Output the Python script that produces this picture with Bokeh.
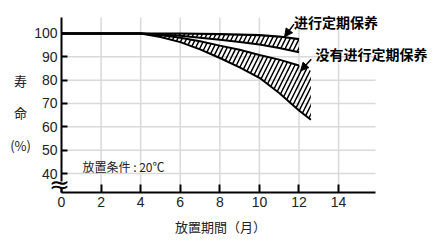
from bokeh.plotting import figure
from bokeh.models import Label, Arrow, NormalHead, FixedTicker, BoxAnnotation
from bokeh.embed import file_html
from bokeh.resources import INLINE

# ---- data ----
x_ticks = [0, 2, 4, 6, 8, 10, 12, 14]
y_ticks = [40, 50, 60, 70, 80, 90, 100]
grid_x = [2, 4, 6, 8, 10, 12, 14]
grid_y = [40, 50, 60, 70, 80, 90]

# with regular maintenance (upper band)
keep_top_m = [0, 4, 6, 8, 10, 11, 12]
keep_top_v = [100, 100, 100, 99.7, 99.3, 98.7, 97.6]
keep_bot_m = [0, 4, 5, 6, 7, 8, 9, 10, 11, 12]
keep_bot_v = [100, 100, 99.6, 99.0, 98.2, 97.3, 96.4, 95.3, 93.8, 92.0]

# without regular maintenance (lower band)
nokeep_top_m = [0, 4, 5, 6, 7, 8, 9, 10, 11, 12]
nokeep_top_v = [100, 100, 99.3, 98.2, 96.7, 94.8, 93.0, 90.8, 88.8, 86.3]
nokeep_top_end_m = [12, 12.6]
nokeep_top_end_v = [86.3, 84.0]
nokeep_bot_m = [0, 4, 5, 6, 7, 8, 9, 10, 11, 12, 12.6]
nokeep_bot_v = [100, 100, 98.5, 96.3, 93.2, 89.5, 85.5, 81.0, 74.5, 67.0, 63.0]

label_keep = "进行定期保养"
label_nokeep = "没有进行定期保养"
cond_text = "放置条件 : 20℃"
x_title = "放置期間（月）"
y_title_parts = ["寿", "命", "(%)"]

# ---- layout constants ----
AX_X_MIN, AX_X_MAX = 0, 15.87          # extent of drawn axes
AX_Y_MIN, AX_Y_MAX = 31.86, 106.9
X_LO, X_HI = -3.082, 19.20             # whole canvas
Y_LO, Y_HI = 7.86, 114.14

NUM_FONT = "'Liberation Sans Narrow', 'Liberation Sans', sans-serif"
JP_FONT = "'Noto Sans CJK JP', sans-serif"
SC_FONT = "'Noto Sans CJK SC', sans-serif"
GRID_COLOR = "#d9d9d9"

p = figure(width=441, height=248, x_range=(X_LO, X_HI), y_range=(Y_LO, Y_HI),
           output_backend="svg", toolbar_location=None,
           min_border=0, min_border_left=0, min_border_right=0,
           min_border_top=0, min_border_bottom=0)
p.outline_line_color = None
p.background_fill_color = "white"
p.border_fill_color = "white"
p.xgrid.visible = False
p.ygrid.visible = False

# grid lines limited to the axes' extent
p.segment(x0=[AX_X_MIN] * len(grid_y), x1=[AX_X_MAX] * len(grid_y), y0=grid_y, y1=grid_y,
          line_color=GRID_COLOR, line_width=1.5)
p.segment(x0=grid_x, x1=grid_x, y0=[AX_Y_MIN] * len(grid_x), y1=[AX_Y_MAX] * len(grid_x),
          line_color=GRID_COLOR, line_width=1.5)

# axes
for ax in (p.xaxis[0], p.yaxis[0]):
    ax.axis_line_color = "black"
    ax.axis_line_width = 2
    ax.major_tick_line_color = "black"
    ax.major_tick_line_width = 2
    ax.major_tick_out = 0
    ax.minor_tick_line_color = None
    ax.major_label_text_font = NUM_FONT
    ax.major_label_text_font_size = "14px"
    ax.major_label_text_color = "#222222"
p.xaxis.ticker = FixedTicker(ticks=x_ticks)
p.yaxis.ticker = FixedTicker(ticks=y_ticks)
p.xaxis.fixed_location = AX_Y_MIN
p.yaxis.fixed_location = AX_X_MIN
p.xaxis.bounds = (AX_X_MIN, AX_X_MAX)
p.yaxis.bounds = (AX_Y_MIN, AX_Y_MAX)
p.xaxis.major_tick_in = 8
p.yaxis.major_tick_in = 6
p.xaxis.major_label_standoff = 5
p.yaxis.major_label_standoff = 4

# hatched bands
keep_xs = keep_top_m + keep_bot_m[::-1]
keep_ys = keep_top_v + keep_bot_v[::-1]
nk_xs = nokeep_top_m + nokeep_top_end_m[1:] + nokeep_bot_m[::-1]
nk_ys = nokeep_top_v + nokeep_top_end_v[1:] + nokeep_bot_v[::-1]
for xs, ys in ((keep_xs, keep_ys), (nk_xs, nk_ys)):
    p.patch(xs, ys, fill_color=None, line_color=None,
            hatch_pattern="/", hatch_color="black", hatch_weight=1.5, hatch_scale=9)

# outlines of bands
p.line(keep_top_m, keep_top_v, line_color="black", line_width=2.2)
p.line(keep_bot_m, keep_bot_v, line_color="black", line_width=2)
p.line(nokeep_top_m, nokeep_top_v, line_color="black", line_width=2)
p.line(nokeep_bot_m, nokeep_bot_v, line_color="black", line_width=2)

# axis break
p.add_layout(BoxAnnotation(left=-0.3, right=0.3, bottom=33.8, top=36.6,
                           fill_color="white", fill_alpha=1, line_color=None))
p.add_layout(Label(x=-0.1, y=35.3, text="≈", text_align="center", text_baseline="middle",
                   text_font_size="25px", text_color="black", text_font="DejaVu Sans"))

# arrows + labels
p.add_layout(Arrow(end=NormalHead(size=8, fill_color="black", line_color="black"),
                   x_start=11.75, y_start=104.0, x_end=11.27, y_end=98.6,
                   line_width=1.5, line_color="black"))
p.add_layout(Arrow(end=NormalHead(size=8, fill_color="black", line_color="black"),
                   x_start=12.62, y_start=89.0, x_end=12.08, y_end=84.0,
                   line_width=1.5, line_color="black"))
p.add_layout(Label(x=11.75, y=105.1, text=label_keep, text_baseline="middle",
                   text_font=SC_FONT, text_font_style="bold", text_font_size="14px",
                   text_color="black"))
p.add_layout(Label(x=12.83, y=91.4, text=label_nokeep, text_baseline="middle",
                   text_font=SC_FONT, text_font_style="bold", text_font_size="14px",
                   text_color="black"))

# y-axis title (stacked)
for txt, yv in zip(y_title_parts, (79.9, 66.1, 52.0)):
    p.add_layout(Label(x=-2.07, y=yv, text=txt, text_align="center", text_baseline="middle",
                       text_font=JP_FONT, text_font_size="13px", text_color="#222222"))

# x-axis title
p.add_layout(Label(x=8.03, y=17.3, text=x_title, text_align="center", text_baseline="middle",
                   text_font=JP_FONT, text_font_size="13px", text_color="#222222"))

# condition note
p.add_layout(Label(x=1.06, y=43.0, text=cond_text, text_baseline="middle",
                   text_font=JP_FONT, text_font_size="12px", text_color="#222222"))

open("out.html", "w").write(file_html(p, INLINE))
